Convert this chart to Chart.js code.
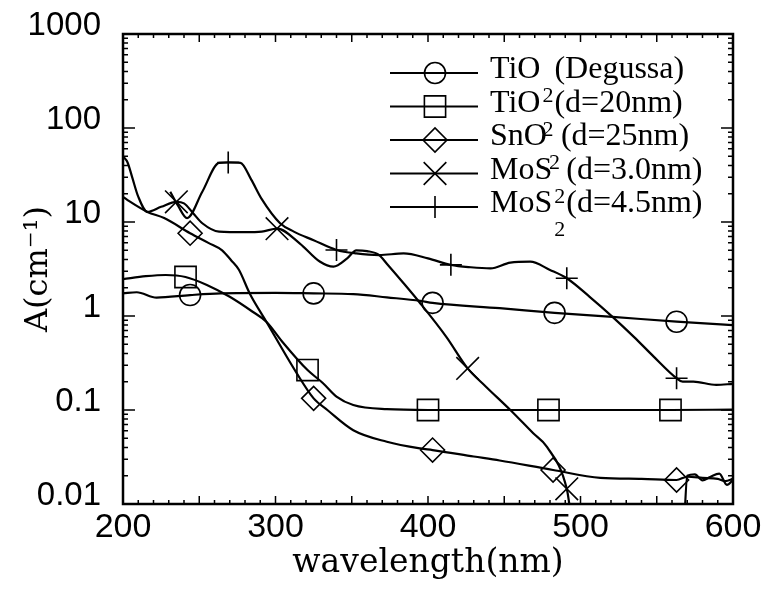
<!DOCTYPE html>
<html><head><meta charset="utf-8">
<script src="https://cdn.jsdelivr.net/npm/chart.js@4"></script>
<style>html,body{margin:0;padding:0;background:#fff;}</style>
</head><body>
<canvas id="c" width="769" height="589"></canvas>
<script>
// ---- axis ticks ----
const xTickValues = [200, 300, 400, 500, 600];
const yTickValues = [0.01, 0.1, 1, 10, 100, 1000];
const yTickLabels = ['0.01', '0.1', '1', '10', '100', '1000'];

// ---- series names: [main, subscript, rest] ----
const seriesNames = [
  ['TiO', '2', '(Degussa)'],
  ['TiO', '2', '(d=20nm)'],
  ['SnO', '2', '(d=25nm)'],
  ['MoS', '2', '(d=3.0nm)'],
  ['MoS', '2', '(d=4.5nm)']
];

// ---- TiO2 (Degussa) ----
const tio2DegWl = [200, 209, 222, 244, 264, 300, 325, 351, 373, 395, 403, 447, 483, 521, 563, 592, 600];
const tio2DegA  = [1.74, 1.79, 1.57, 1.67, 1.74, 1.76, 1.74, 1.71, 1.58, 1.45, 1.38, 1.21, 1.08, 0.98, 0.87, 0.815, 0.80];
const tio2DegMarks = [244, 325, 403, 483, 563];

// ---- TiO2 (d=20nm) ----
const tio220Wl = [200, 215, 228, 241, 255, 270, 285, 294, 305, 321, 331, 340, 351, 373, 400, 440, 479, 520, 559, 600];
const tio220A  = [2.47, 2.65, 2.73, 2.6, 2.14, 1.6, 1.11, 0.87, 0.52, 0.266, 0.194, 0.139, 0.113, 0.102, 0.100, 0.100, 0.100, 0.100, 0.100, 0.101];
const tio220Marks = [241, 321, 400, 479, 559];

// ---- SnO2 (d=25nm) ----
const sno2Wl = [200, 203, 216, 227, 244, 256, 265, 271, 276, 283, 294, 314, 325, 334, 351, 373, 395, 403, 430, 447, 482, 513, 540, 563, 570, 580, 590, 595, 600];
const sno2A  = [18.5, 17.1, 12.8, 11, 7.6, 6.0, 5.0, 3.9, 3.1, 1.75, 0.87, 0.245, 0.133, 0.1, 0.061, 0.046, 0.039, 0.0375, 0.032, 0.029, 0.023, 0.019, 0.0185, 0.018, 0.0195, 0.019, 0.0185, 0.0175, 0.0185];
const sno2Marks = [244, 325, 403, 482, 563];

// ---- MoS2 (d=3.0nm) ----
const mos230Wl = [200, 203, 206, 210, 216, 225, 235, 240, 246, 252, 263, 280, 291, 301, 316, 329, 338, 347, 353, 360, 368, 373, 384, 395, 412, 426, 438, 454, 469, 478, 491, 493, 497, 567, 570, 575, 580, 585, 591, 596, 600];
const mos230A  = [50, 43, 30, 18.6, 12.8, 14.5, 16.4, 15.8, 12.4, 9.7, 7.9, 7.8, 7.9, 8.5, 5.9, 3.8, 3.35, 4.1, 5.0, 4.9, 4.45, 3.6, 2.23, 1.36, 0.6, 0.277, 0.177, 0.1, 0.0565, 0.0405, 0.0145, 0.0093, 0.004, 0.004, 0.020, 0.0207, 0.0178, 0.0194, 0.021, 0.016, 0.018];
const mos230Marks = [235, 301, 426, 491];

// ---- MoS2 (d=4.5nm) ----
const mos245Wl = [231, 236, 242, 252, 263, 269, 277, 284, 291, 303, 312, 325, 340, 353, 368, 384, 400, 415, 428, 441, 454, 467, 480, 491, 506, 521, 535, 548, 563, 567, 574, 589, 600];
const mos245A  = [21, 15, 11, 21, 42.6, 43, 42.6, 28.4, 17.5, 9.7, 7.9, 6.4, 5.04, 4.63, 4.45, 4.63, 4.1, 3.5, 3.3, 3.21, 3.7, 3.78, 3.09, 2.52, 1.6, 0.98, 0.6, 0.37, 0.218, 0.2, 0.2, 0.185, 0.19];
const mos245Marks = [269, 340, 415, 491, 563];

const seriesStyles = [
  {style: 'circle',   radius: 10.5},
  {style: 'rect',     radius: 15},
  {style: 'rectRot',  radius: 12},
  {style: 'crossRot', radius: 16},
  {style: 'cross',    radius: 11}
];

function pts(wl, a) { return wl.map((w, i) => ({x: w, y: a[i]})); }
const seriesData = [
  [tio2DegWl, tio2DegA, tio2DegMarks],
  [tio220Wl, tio220A, tio220Marks],
  [sno2Wl, sno2A, sno2Marks],
  [mos230Wl, mos230A, mos230Marks],
  [mos245Wl, mos245A, mos245Marks]
];

const datasets = seriesData.map(([wl, a, marks], i) => ({
  label: seriesNames[i][0] + '\u2082' + seriesNames[i][2],
  data: pts(wl, a),
  borderColor: '#000',
  borderWidth: 2.2,
  cubicInterpolationMode: 'monotone',
  pointStyle: seriesStyles[i].style,
  pointRadius: c => (c.raw && marks.includes(c.raw.x)) ? seriesStyles[i].radius : 0,
  pointHoverRadius: c => (c.raw && marks.includes(c.raw.x)) ? seriesStyles[i].radius : 0,
  pointHitRadius: 0,
  pointBorderColor: '#000',
  pointBackgroundColor: 'rgba(0,0,0,0)',
  pointBorderWidth: 1.6
}));

const framePlugin = {
  id: 'frame',
  afterDatasetsDraw(chart) {
    const {ctx, chartArea: {left, right, top, bottom}, scales: {x, y}} = chart;
    ctx.save();
    ctx.strokeStyle = '#000';
    ctx.lineWidth = 1.5;
    ctx.beginPath();
    for (let v = 210; v < 600; v += 10) {
      const px = x.getPixelForValue(v);
      const len = v % 50 === 0 ? 8 : 4;
      ctx.moveTo(px, bottom); ctx.lineTo(px, bottom - len);
      ctx.moveTo(px, top); ctx.lineTo(px, top + len);
    }
    for (let e = -2; e <= 3; e++) {
      for (let m = 1; m <= 9; m++) {
        const v = m * Math.pow(10, e);
        if (v > 1000 || (m === 1 && (e === -2 || e === 3))) continue;
        const py = y.getPixelForValue(v);
        const len = m === 1 ? 12 : 5;
        ctx.moveTo(left, py); ctx.lineTo(left + len, py);
        ctx.moveTo(right, py); ctx.lineTo(right - len, py);
      }
    }
    ctx.stroke();
    ctx.lineWidth = 2.5;
    ctx.strokeRect(left, top, right - left, bottom - top);
    ctx.restore();
  }
};

function drawMarker(ctx, style, r, cx, cy) {
  if (Chart.helpers && Chart.helpers.drawPoint) {
    Chart.helpers.drawPoint(ctx, {pointStyle: style, radius: r, rotation: 0, borderWidth: 1.6}, cx, cy);
    return;
  }
  ctx.beginPath();
  if (style === 'circle') ctx.arc(cx, cy, r, 0, Math.PI * 2);
  else if (style === 'rect') { const s = r * Math.SQRT1_2; ctx.rect(cx - s, cy - s, 2 * s, 2 * s); }
  else if (style === 'rectRot') { ctx.moveTo(cx - r, cy); ctx.lineTo(cx, cy - r); ctx.lineTo(cx + r, cy); ctx.lineTo(cx, cy + r); ctx.closePath(); }
  else if (style === 'crossRot') { const s = r * Math.SQRT1_2; ctx.moveTo(cx - s, cy - s); ctx.lineTo(cx + s, cy + s); ctx.moveTo(cx + s, cy - s); ctx.lineTo(cx - s, cy + s); }
  else { ctx.moveTo(cx - r, cy); ctx.lineTo(cx + r, cy); ctx.moveTo(cx, cy - r); ctx.lineTo(cx, cy + r); }
  ctx.stroke();
}

const legendPlugin = {
  id: 'customLegend',
  afterDraw(chart) {
    const ctx = chart.ctx;
    const y0 = 73, dy = 33.5, x1 = 390, x2 = 478, xm = 435, tx = 490;
    ctx.save();
    seriesNames.forEach((parts, i) => {
      const ly = y0 + i * dy;
      ctx.strokeStyle = '#000';
      ctx.fillStyle = 'rgba(0,0,0,0)';
      ctx.lineWidth = 2;
      ctx.beginPath(); ctx.moveTo(x1, ly); ctx.lineTo(x2, ly); ctx.stroke();
      ctx.lineWidth = 1.6;
      drawMarker(ctx, seriesStyles[i].style, seriesStyles[i].radius, xm, ly);
      ctx.fillStyle = '#000';
      ctx.textBaseline = 'alphabetic';
      ctx.textAlign = 'left';
      ctx.font = '32px "Liberation Serif"';
      let cx = tx;
      ctx.fillText(parts[0], cx, ly + 5);
      cx += ctx.measureText(parts[0]).width + 2;
      ctx.font = '22px "Liberation Serif"';
      ctx.fillText(parts[1], cx, ly + 29);
      cx += ctx.measureText(parts[1]).width + 1;
      ctx.font = '32px "Liberation Serif"';
      ctx.fillText(parts[2], cx, ly + 5);
    });
    ctx.restore();
  }
};

new Chart(document.getElementById('c'), {
  type: 'line',
  data: {datasets},
  options: {
    responsive: false,
    animation: false,
    devicePixelRatio: 1,
    events: [],
    layout: {padding: {top: 34, right: 36, left: 0, bottom: 0}},
    plugins: {legend: {display: false}, tooltip: {enabled: false}},
    scales: {
      x: {
        type: 'linear', min: 200, max: 600,
        afterBuildTicks: s => { s.ticks = xTickValues.map(v => ({value: v})); },
        afterFit: s => { s.height = 85; s.paddingLeft = 0; s.paddingRight = 0; },
        grid: {display: false, drawTicks: false},
        border: {display: false},
        ticks: {autoSkip: false, maxRotation: 0, padding: 3, color: '#000',
                font: {family: 'Liberation Sans', size: 34}},
        title: {display: true, text: 'wavelength(nm)', color: '#000',
                font: {family: 'DejaVu Serif', size: 33}, padding: {top: 0, bottom: 6}}
      },
      y: {
        type: 'logarithmic', min: 0.01, max: 1000,
        afterBuildTicks: s => { s.ticks = yTickValues.map(v => ({value: v})); },
        afterFit: s => { s.width = 123; s.paddingTop = 0; s.paddingBottom = 0; },
        grid: {display: false, drawTicks: false},
        border: {display: false},
        ticks: {autoSkip: false, padding: 22, labelOffset: -8, color: '#000',
                font: {family: 'Liberation Sans', size: 33},
                callback: v => yTickLabels[yTickValues.indexOf(v)]},
        title: {display: true, text: 'A(cm\u207B\u00B9)', color: '#000',
                font: {family: 'DejaVu Serif', size: 32}, padding: {top: 19, bottom: 0}}
      }
    }
  },
  plugins: [framePlugin, legendPlugin]
});
</script>
</body></html>
